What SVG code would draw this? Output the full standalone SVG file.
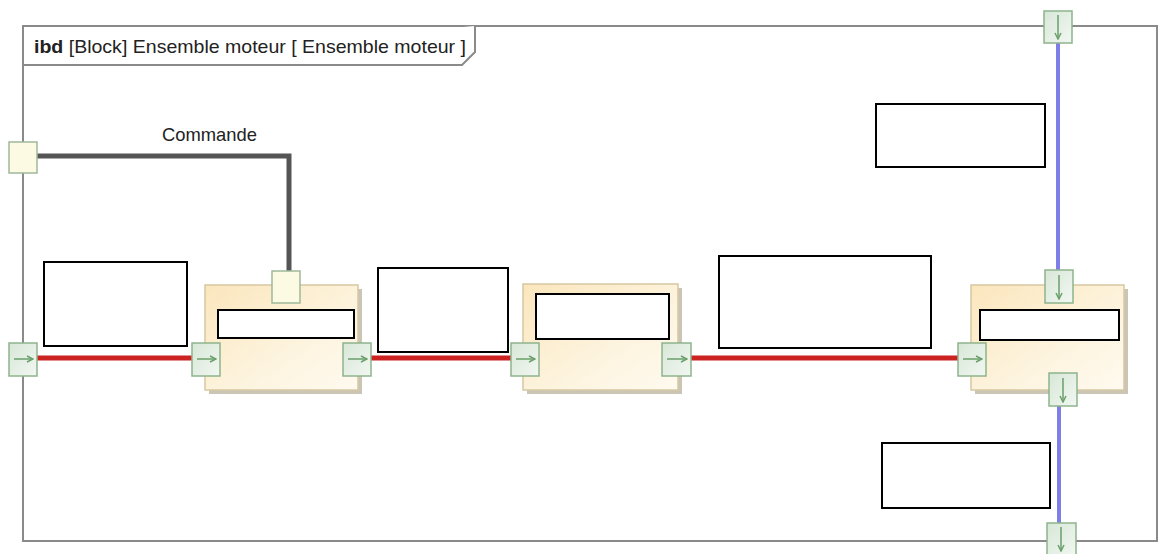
<svg xmlns="http://www.w3.org/2000/svg" width="1158" height="554" viewBox="0 0 1158 554">
<defs>
<linearGradient id="blk" x1="0" y1="0" x2="1" y2="1">
<stop offset="0" stop-color="#fbe6bd"/>
<stop offset="0.6" stop-color="#fdf4df"/>
<stop offset="1" stop-color="#fffaf0"/>
</linearGradient>
<linearGradient id="prt" x1="0" y1="0" x2="1" y2="1">
<stop offset="0" stop-color="#d7e7d7"/>
<stop offset="1" stop-color="#f2f7f2"/>
</linearGradient>
<marker id="ah" markerWidth="8" markerHeight="8" refX="7" refY="4" orient="auto" markerUnits="userSpaceOnUse">
<path d="M1,1 L7,4 L1,7" fill="none" stroke="#6a9f6a" stroke-width="1.5"/>
</marker>
</defs>
<style>
.frame{fill:none;stroke:#8a8a8a;stroke-width:2}
.blk{fill:url(#blk);stroke:#d6c8a2;stroke-width:1.5}
.shadow{fill:#cbc5b5}
.inner{fill:#fff;stroke:#000;stroke-width:2}
.box{fill:#fff;stroke:#000;stroke-width:2}
.port{fill:url(#prt);stroke:#8db48d;stroke-width:1.5}
.cport{fill:#fdfae3;stroke:#9fb99a;stroke-width:1.5}
.arr{stroke:#6a9f6a;stroke-width:1.5;fill:none;marker-end:url(#ah)}
.red{stroke:#cc2222;stroke-width:5;fill:none}
.blue{stroke:#7e7ee8;stroke-width:4;fill:none}
.cmd{stroke:#555;stroke-width:5;fill:none}
.t{font-family:"Liberation Sans",Arial,sans-serif;fill:#222}
</style>
<rect width="1158" height="554" fill="#fff"/>
<g id="frame">
<rect class="frame" x="23" y="26" width="1134" height="515"/>
<path d="M23,65 L462,65 L475,52 L475,26" fill="#fff" stroke="#8a8a8a" stroke-width="2"/>
<text class="t" x="34" y="53" font-size="19" textLength="432" lengthAdjust="spacingAndGlyphs"><tspan font-weight="bold">ibd</tspan> [Block] Ensemble moteur [ Ensemble moteur ]</text>
</g>
<g id="connectors">
<path class="cmd" d="M37,156 L289,156 L289,271"/>
<line class="red" x1="37" y1="358" x2="192" y2="358"/>
<line class="red" x1="371" y1="358" x2="511" y2="358"/>
<line class="red" x1="691" y1="358" x2="958" y2="358"/>
<line class="blue" x1="1058" y1="43" x2="1058" y2="270"/>
<line class="blue" x1="1059" y1="406" x2="1059" y2="523"/>
<text class="t" x="162" y="141" font-size="19" textLength="95" lengthAdjust="spacingAndGlyphs">Commande</text>
</g>
<g id="boxA"><rect class="box" x="44" y="262" width="143" height="84"/></g>
<g id="boxB"><rect class="box" x="378" y="268" width="130" height="84"/></g>
<g id="boxC"><rect class="box" x="719" y="256" width="212" height="92"/></g>
<g id="boxD"><rect class="box" x="876" y="104" width="169" height="63"/></g>
<g id="boxE"><rect class="box" x="882" y="443" width="168" height="65"/></g>
<g id="block1">
<rect class="shadow" x="209" y="289" width="153" height="105"/>
<rect class="blk" x="205" y="285" width="153" height="105"/>
<rect class="inner" x="218" y="310" width="136" height="28"/>
</g>
<g id="block2">
<rect class="shadow" x="527" y="288" width="155" height="106"/>
<rect class="blk" x="523" y="284" width="155" height="106"/>
<rect class="inner" x="536" y="294" width="133" height="45"/>
</g>
<g id="block3">
<rect class="shadow" x="975" y="289" width="153" height="105"/>
<rect class="blk" x="971" y="285" width="153" height="105"/>
<rect class="inner" x="980" y="310" width="139" height="30"/>
</g>
<g id="port-cmd-boundary"><rect class="cport" x="9" y="142" width="28" height="31"/></g>
<g id="port-cmd-block1"><rect class="cport" x="272" y="271" width="28" height="32"/></g>
<g id="port-in-boundary"><rect class="port" x="9" y="343" width="28" height="33"/><line class="arr" x1="14" y1="359" x2="33" y2="359"/></g>
<g id="port-b1-in"><rect class="port" x="192" y="343" width="28" height="33"/><line class="arr" x1="197" y1="359" x2="216" y2="359"/></g>
<g id="port-b1-out"><rect class="port" x="343" y="343" width="28" height="33"/><line class="arr" x1="348" y1="359" x2="367" y2="359"/></g>
<g id="port-b2-in"><rect class="port" x="511" y="343" width="28" height="33"/><line class="arr" x1="516" y1="359" x2="535" y2="359"/></g>
<g id="port-b2-out"><rect class="port" x="662" y="343" width="29" height="33"/><line class="arr" x1="667" y1="359" x2="687" y2="359"/></g>
<g id="port-b3-in"><rect class="port" x="958" y="343" width="28" height="33"/><line class="arr" x1="963" y1="359" x2="982" y2="359"/></g>
<g id="port-b3-top"><rect class="port" x="1045" y="270" width="28" height="33"/><line class="arr" x1="1059" y1="275" x2="1059" y2="299"/></g>
<g id="port-b3-bottom"><rect class="port" x="1049" y="373" width="28" height="33"/><line class="arr" x1="1063" y1="378" x2="1063" y2="402"/></g>
<g id="port-top-boundary"><rect class="port" x="1044" y="11" width="28" height="32"/><line class="arr" x1="1058" y1="15" x2="1058" y2="39"/></g>
<g id="port-bottom-boundary"><rect class="port" x="1047" y="523" width="29" height="33"/><line class="arr" x1="1061" y1="527" x2="1061" y2="551"/></g>
</svg>
